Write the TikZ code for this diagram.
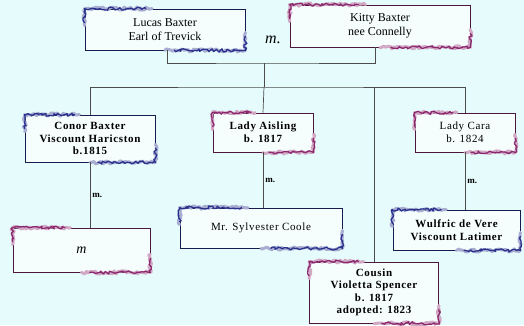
\documentclass[tikz,border=0pt]{standalone}
\usepackage{fontspec}
\setmainfont{Liberation Serif}
\newfontfamily\wideserif[LetterSpace=6]{Liberation Serif}
\usepackage{tikz}
\usetikzlibrary{calc,positioning,decorations.pathmorphing}
\definecolor{bgcyan}{RGB}{230,251,251}
\definecolor{navy}{RGB}{40,50,140}
\definecolor{plum}{RGB}{140,40,110}
\tikzset{
  box/.style={draw, fill=bgcyan!40!white, line width=0.8pt, align=center, inner sep=2pt, font=\wideserif\fontsize{11}{12.5}\selectfont},
  heavy/.style={font=\wideserif\fontsize{11}{12.5}\selectfont\bfseries},
  bluebox/.style={box, draw=navy!55!black},
  plumbox/.style={box, draw=plum!55!black},
  flourish/.style={decorate, decoration={random steps, segment length=2pt, amplitude=1.6pt}, line width=3pt, line cap=round, line join=round},
  link/.style={draw=black!70, line width=0.7pt},
  wed/.style={right, inner sep=2pt, font=\fontsize{9}{10}\selectfont\bfseries}
}
\newcommand{\ornate}[2]{
  \draw[flourish, #2!40] ($(#1.north west)+(0,-17pt)$) -- (#1.north west) -- ($(#1.north west)!.42!(#1.north east)$);
  \draw[flourish, #2, line width=1.3pt] ($(#1.north west)+(0,-14pt)$) -- (#1.north west) -- ($(#1.north west)!.38!(#1.north east)$);
  \draw[flourish, #2!40] ($(#1.south west)!.5!(#1.south east)$) -- (#1.south east) -- ($(#1.south east)+(0,18pt)$);
  \draw[flourish, #2, line width=1.3pt] ($(#1.south west)!.56!(#1.south east)$) -- (#1.south east) -- ($(#1.south east)+(0,14pt)$);
}
\begin{document}
\begin{tikzpicture}[x=1pt, y=-1pt]
\pgfmathsetseed{7}
\fill[bgcyan] (0,0) rectangle (524,325);
\useasboundingbox (0,0) rectangle (524,325);

\node[bluebox, minimum width=160pt, minimum height=41pt, font=\fontsize{12}{14}\selectfont] (lucas) at (165,29.5) {Lucas Baxter\\Earl of Trevick};
\node[plumbox, minimum width=180pt, minimum height=42pt, font=\fontsize{12}{14}\selectfont] (kitty) at (380,26) {Kitty Baxter\\nee Connelly};
\node[font=\fontsize{16}{16}\selectfont\itshape] (wed0) at (273,40) {m.};

\node[bluebox, heavy, minimum width=130pt, minimum height=47pt] (conor) at (90,138.5) {Conor Baxter\\Viscount Haricston\\b.1815};
\node[plumbox, heavy, minimum width=100pt, minimum height=39pt] (aisling) at (263,132.5) {Lady Aisling\\b. 1817};
\node[plumbox, minimum width=100pt, minimum height=39pt] (cara) at (465,132.5) {Lady Cara\\b. 1824};
\node[plumbox, heavy, minimum width=129pt, minimum height=61pt] (cousin) at (374,292.5) {Cousin\\Violetta Spencer\\b. 1817\\adopted: 1823};

\node[plumbox, minimum width=137pt, minimum height=44pt, font=\fontsize{14}{14}\selectfont\itshape] (conorwife) at (81.5,250) {m};
\node[bluebox, minimum width=162pt, minimum height=40pt] (sylvester) at (261,228) {Mr. Sylvester Coole};
\node[bluebox, heavy, minimum width=127pt, minimum height=40pt] (wulfric) at (456.5,230) {Wulfric de Vere\\Viscount Latimer};

\ornate{lucas}{navy}
\ornate{kitty}{plum}
\ornate{conor}{navy}
\ornate{aisling}{plum}
\ornate{cara}{plum}
\ornate{cousin}{plum}
\ornate{conorwife}{plum}
\ornate{sylvester}{navy}
\ornate{wulfric}{navy}

\coordinate (join) at (264,63);
\coordinate (bus) at (264,87);
\path[link] ([xshift=2pt]lucas.south) |- (join) -| ([xshift=-5pt]kitty.south);
\path[link] (join) -- (bus);
\path[link] (conor.north) |- (bus) -| (cara.north);
\path[link] (bus) -- (aisling.north);
\path[link] (bus -| cousin.north) -- (cousin.north);

\path[link] (conor.south) -- (conor.south |- conorwife.north) node[wed, midway] {m.};
\path[link] (aisling.south) -- (aisling.south |- sylvester.north) node[wed, midway] {m.};
\path[link] (cara.south) -- (cara.south |- wulfric.north) node[wed, midway] {m.};
\end{tikzpicture}
\end{document}
